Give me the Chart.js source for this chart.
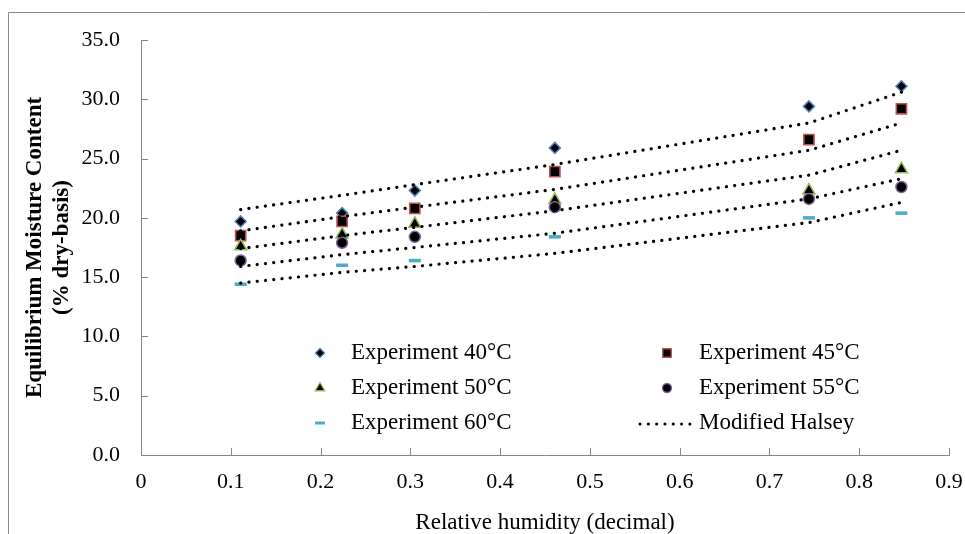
<!DOCTYPE html>
<html><head><meta charset="utf-8">
<script src="https://cdn.jsdelivr.net/npm/chart.js@4.4.0/dist/chart.umd.min.js"></script>
<style>html,body{margin:0;padding:0;background:#fff;} canvas{display:block;}</style>
</head><body>
<canvas id="c" width="965" height="534"></canvas>
<script>
// ---- data ----
const relativeHumidity = [0.111, 0.224, 0.305, 0.461, 0.744, 0.847];
const exp40 = [19.7, 20.4, 22.3, 25.9, 29.4, 31.1];
const exp45 = [18.5, 19.7, 20.8, 23.9, 26.6, 29.2];
const exp50 = [17.6, 18.6, 19.5, 21.5, 22.3, 24.1];
const exp55 = [16.4, 17.9, 18.4, 20.9, 21.6, 22.6];
const exp60 = [14.4, 16.0, 16.4, 18.4, 20.0, 20.4];
const halsey40 = [20.7, 21.9, 22.8, 24.5, 28.0, 30.6];
const halsey45 = [18.9, 20.1, 20.9, 22.4, 25.7, 28.0];
const halsey50 = [17.4, 18.5, 19.2, 20.6, 23.6, 25.7];
const halsey55 = [15.9, 16.9, 17.5, 18.7, 21.6, 23.3];
const halsey60 = [14.5, 15.4, 15.9, 17.0, 19.6, 21.3];
const seriesLabels = ['Experiment 40°C','Experiment 45°C','Experiment 50°C','Experiment 55°C','Experiment 60°C','Modified Halsey'];
const xTitle = 'Relative humidity (decimal)';
const yTitle = ['Equilibrium Moisture Content','(% dry-basis)'];

const FONT = '"Liberation Serif","Times New Roman",serif';
const AXIS = '#868686';
const pts = ys => relativeHumidity.map((x, i) => ({x: x, y: ys[i]}));

const markerStyles = [
  {style:'rectRot', r:5.5, border:'#4F81BD', bw:1.5, fill:'#000', order:5},
  {style:'rect',    r:7.2, border:'#C0504D', bw:1.6, fill:'#000', order:4},
  {style:'triangle',r:7,   border:'#9BBB59', bw:1.5, fill:'#000', order:3},
  {style:'circle',  r:5.5, border:'#8064A2', bw:1.5, fill:'#000', order:2},
  {style:'line',    r:6,   border:'#4BACC6', bw:3.5, fill:'#4BACC6', order:1}
];
const expSeries = [exp40, exp45, exp50, exp55, exp60];
const halseySeries = [halsey40, halsey45, halsey50, halsey55, halsey60];

const datasets = [];
expSeries.forEach((s, i) => {
  const m = markerStyles[i];
  datasets.push({
    label: seriesLabels[i], data: pts(s), showLine: false,
    pointStyle: m.style, pointRadius: m.r, pointBorderColor: m.border,
    pointBackgroundColor: m.fill, pointBorderWidth: m.bw, order: m.order
  });
});
halseySeries.forEach((s) => {
  datasets.push({
    label: seriesLabels[5], data: pts(s), showLine: true, pointRadius: 0,
    borderColor: '#000', borderWidth: 3.2, borderDash: [0.1, 8.2],
    borderCapStyle: 'round', fill: false, tension: 0, order: 0
  });
});

const decor = {
  id: 'decor',
  beforeDraw(chart) {
    const ctx = chart.ctx;
    ctx.save();
    ctx.strokeStyle = '#8a8a8a'; ctx.lineWidth = 1;
    ctx.beginPath();
    ctx.moveTo(8.5, 534); ctx.lineTo(8.5, 12.5); ctx.lineTo(965, 12.5);
    ctx.stroke();
    ctx.restore();
  },
  afterDraw(chart) {
    const ctx = chart.ctx;
    const xs = chart.scales.x, ys = chart.scales.y;
    ctx.save();
    ctx.strokeStyle = AXIS; ctx.lineWidth = 1;
    ctx.beginPath();
    xs.ticks.forEach(t => {
      const px = Math.round(xs.getPixelForValue(t.value)) + 0.5;
      ctx.moveTo(px, ys.bottom); ctx.lineTo(px, ys.bottom - 7);
    });
    ys.ticks.forEach(t => {
      const py = Math.round(ys.getPixelForValue(t.value)) + 0.5;
      ctx.moveTo(xs.left, py); ctx.lineTo(xs.left + 7, py);
    });
    ctx.stroke();

    // legend
    const rows = [353, 388, 423];
    const cols = [{m:320, t:351}, {m:667, t:699}];
    const legendMarkers = [
      {style:'rectRot', r:4.5}, {style:'rect', r:6}, {style:'triangle', r:5.5},
      {style:'circle', r:4.5}, {style:'line', r:5}
    ];
    ctx.font = '23px ' + FONT;
    ctx.textBaseline = 'middle'; ctx.textAlign = 'left'; ctx.fillStyle = '#000';
    for (let i = 0; i < 6; i++) {
      const col = cols[i % 2], y = rows[Math.floor(i / 2)];
      if (i < 5) {
        const m = markerStyles[i], lm = legendMarkers[i];
        ctx.save();
        ctx.fillStyle = m.fill; ctx.strokeStyle = m.border;
        ctx.lineWidth = m.style === 'line' ? 3 : 1.3;
        Chart.helpers.drawPoint(ctx, {pointStyle: lm.style, radius: lm.r, rotation: 0, borderWidth: ctx.lineWidth}, col.m, y);
        ctx.restore();
      } else {
        ctx.save();
        ctx.strokeStyle = '#000'; ctx.lineWidth = 3; ctx.lineCap = 'round';
        ctx.setLineDash([0.1, 8.2]);
        ctx.beginPath(); ctx.moveTo(640, y + 1); ctx.lineTo(692, y + 1); ctx.stroke();
        ctx.restore();
      }
      ctx.fillStyle = '#000';
      ctx.fillText(seriesLabels[i], col.t, y);
    }
    ctx.restore();
  }
};

new Chart(document.getElementById('c'), {
  type: 'scatter',
  data: { datasets: datasets },
  plugins: [decor],
  options: {
    responsive: false, animation: false, devicePixelRatio: 1,
    layout: { padding: { top: 40, right: 16, left: 0, bottom: 0 } },
    plugins: { legend: { display: false }, tooltip: { enabled: false } },
    scales: {
      x: {
        type: 'linear', min: 0, max: 0.9,
        grid: { display: false, drawTicks: false },
        border: { display: true, color: AXIS, width: 1 },
        ticks: { stepSize: 0.1, padding: 14, color: '#000', maxRotation: 0,
          font: { family: FONT, size: 22, lineHeight: 1.2 },
          callback: v => (Math.abs(v) < 1e-9 ? '0' : (Math.round(v * 10) / 10).toFixed(1)) },
        title: { display: true, text: xTitle, color: '#000', padding: 0,
          font: { family: FONT, size: 23, lineHeight: 1.0 } },
        afterFit: s => { s.height = 79; s.paddingRight = 0; s.paddingLeft = 0; }
      },
      y: {
        type: 'linear', min: 0, max: 35,
        grid: { display: false, drawTicks: false },
        border: { display: true, color: AXIS, width: 1 },
        ticks: { stepSize: 5, padding: 21, color: '#000',
          font: { family: FONT, size: 22, lineHeight: 1.2 },
          callback: v => v.toFixed(1) },
        title: { display: true, text: yTitle, color: '#000', padding: { top: 21, bottom: 0 },
          font: { family: FONT, size: 23, weight: 'bold', lineHeight: 1.2 } },
        afterFit: s => { s.width = 141; }
      }
    }
  }
});
</script>
</body></html>
